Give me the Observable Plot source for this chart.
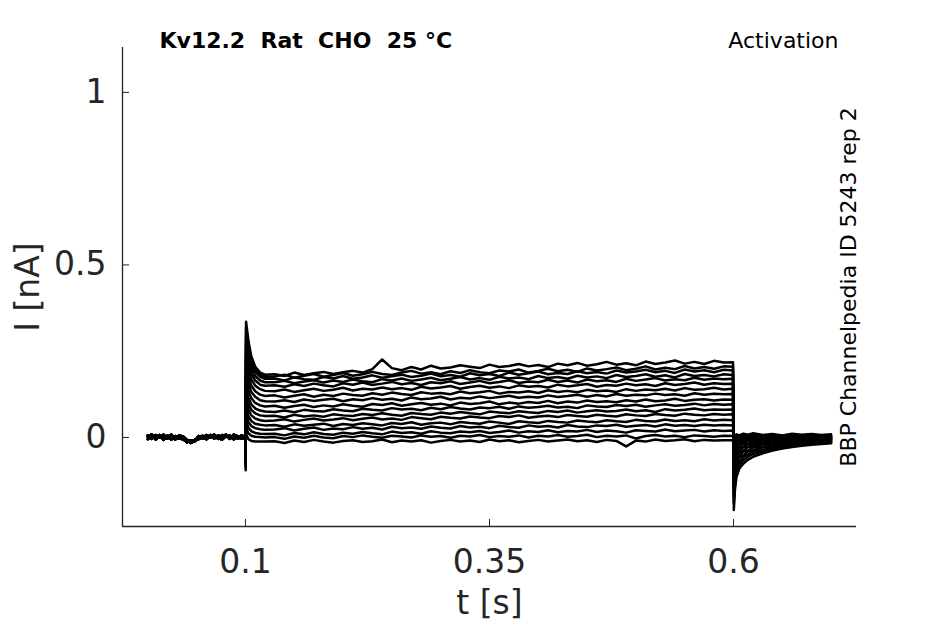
<!DOCTYPE html>
<html><head><meta charset="utf-8">
<script src="https://cdn.jsdelivr.net/npm/d3@7"></script>
<script src="https://cdn.jsdelivr.net/npm/@observablehq/plot@0.6"></script>
<style>html,body{margin:0;padding:0;background:#fff;overflow:hidden}</style>
</head><body><div id="chart"></div>
<script>
// ---- text ----
const titleText = "Kv12.2\u00a0 Rat\u00a0 CHO\u00a0 25 °C";
const protocolText = "Activation";
const sourceText = "BBP Channelpedia ID 5243 rep 2";
const xLabel = "t [s]";
const yLabel = "I [nA]";

// ---- axes ----
const xTicks = [0.1, 0.35, 0.6];
const yTicks = [0, 0.5, 1];
const xDomain = [-0.026, 0.726];
const yDomain = [-0.258, 1.13];

// ---- data (times in ms, currents in pA) ----
const baseT = [0,4,8,12,16,20,24,28,32,36,40,44,48,52,56,60,64,68,72,76,80,84,88,92,96,99.8];
const baseA = [6,-4,7,-1,8,-3,4,-6,2,-7,-9,-12,-7,-2,5,-1,7,-3,5,2,8,-2,4,-3,6,0];
const baseB = [-5,6,-1,7,-3,5,-6,4,-4,-2,-14,-8,-11,4,-3,7,-1,6,-4,7,2,5,-5,4,-1,2];
const baseC = [2,9,-6,4,-7,2,8,-3,6,3,-7,-16,-10,-5,2,-5,4,8,-1,-6,4,-4,8,2,-4,-2];

const onsetT = 100.2;
const onsetDip = [-95,-88,-80,-72,-64,-56,-50,-44,-38,-32,-27,-22,-18,-14,-11,-8,-6];

const stepT = [100.6,103,106,110,115,120,130,140,150,160,170,180,190,200,210,220,230,240,250,260,270,280,290,300,310,320,330,340,350,360,370,380,390,400,410,420,430,440,450,460,470,480,490,500,510,520,530,540,550,560,570,580,590,599.5];

// capacitive transient (first 6 samples of each sweep)
const transients = [
 [335,280,235,205,188,182],
 [320,265,225,198,182,176],
 [300,250,215,190,176,170],
 [280,235,200,178,165,160],
 [260,215,185,165,153,150],
 [240,195,168,150,140,135],
 [215,175,150,134,124,120],
 [195,155,132,118,108,105],
 [175,135,114,100,93,90],
 [150,115,96,84,78,75],
 [130,98,80,70,64,62],
 [110,80,64,55,50,48],
 [90,62,48,40,37,35],
 [70,45,33,27,24,22],
 [50,28,18,13,11,10],
 [30,12,5,2,1,0],
 [10,-5,-10,-12,-12,-12]
];

// steady-state currents from 130 ms to 599.5 ms
const steady = [
 [183,178,188,181,186,190,184,189,193,188,198,226,201,195,204,197,208,200,203,209,205,201,211,204,207,213,206,210,204,214,209,216,208,212,219,211,215,209,220,213,217,223,214,219,213,222,217,218],
 [177,182,173,179,184,176,181,187,179,183,190,184,181,188,193,185,189,183,192,187,195,189,186,194,191,197,188,193,199,192,196,190,200,194,198,203,195,199,206,197,202,198,207,200,204,199,206,205],
 [171,165,174,169,167,175,171,178,170,174,180,173,177,182,175,179,185,177,181,176,186,180,184,178,188,182,186,191,183,187,184,192,186,190,185,194,188,191,196,189,193,187,197,191,195,189,196,194],
 [160,164,157,162,166,159,165,161,168,163,160,169,165,171,164,168,173,166,170,175,168,172,167,176,171,174,169,178,172,175,170,179,174,177,172,181,175,178,183,176,180,174,184,178,181,177,183,181],
 [151,147,154,149,156,151,148,157,153,159,152,156,161,154,158,152,160,157,163,155,159,164,157,161,166,158,162,160,167,161,165,159,168,163,166,161,170,164,168,172,165,169,166,173,167,171,169,170],
 [134,139,132,137,141,135,138,144,136,141,139,145,140,143,138,147,142,145,149,141,146,150,144,148,143,151,147,149,145,153,148,151,155,147,152,150,156,151,154,149,157,152,155,159,153,157,155,156],
 [122,116,121,125,118,124,120,127,123,121,128,124,130,126,123,131,127,129,125,133,128,131,135,127,132,130,134,129,137,132,135,131,138,134,136,132,140,135,139,137,141,136,143,138,140,144,139,141],
 [104,108,103,110,106,109,112,105,111,108,114,109,112,107,116,111,113,118,110,115,113,119,114,117,121,115,118,116,122,117,120,124,118,123,119,126,121,124,122,127,123,125,121,128,124,127,125,126],
 [92,86,91,95,88,93,90,96,92,89,97,94,99,92,96,100,95,98,93,101,97,99,104,96,101,98,103,100,106,99,104,101,107,103,105,102,108,104,110,105,107,112,106,109,111,107,110,109],
 [74,78,73,80,77,75,82,78,76,83,80,78,85,81,83,79,86,82,88,84,81,87,85,89,83,90,86,88,92,87,89,85,93,90,88,94,91,95,89,93,96,92,94,98,93,97,95,96],
 [63,58,66,61,64,60,67,64,62,68,65,70,66,63,71,68,66,72,69,74,70,67,75,72,70,76,73,71,77,74,78,72,76,79,75,77,81,76,79,74,82,78,80,84,79,81,80,81],
 [49,53,46,51,55,49,52,56,50,54,58,52,55,51,59,56,53,60,57,55,61,58,56,62,59,64,57,61,63,59,65,62,60,66,63,61,67,64,62,68,65,63,69,66,64,68,66,67],
 [36,31,38,34,37,40,33,39,36,41,38,35,42,39,44,37,41,43,38,45,42,40,46,43,39,47,44,42,48,45,43,49,46,44,50,47,45,51,48,46,52,48,50,47,53,49,51,50],
 [23,27,20,25,29,22,26,24,30,25,28,23,31,27,29,25,32,28,26,33,29,31,27,34,30,28,35,31,33,29,36,32,30,35,33,37,31,34,36,32,38,34,36,33,37,35,36,35],
 [11,6,13,9,15,10,8,14,11,16,12,9,17,13,15,11,18,14,12,17,15,19,13,16,20,14,18,16,21,15,19,17,22,16,20,18,14,21,19,17,23,18,20,22,17,21,19,20],
 [1,-4,3,-1,5,0,-2,4,1,6,2,-1,5,3,0,6,2,4,-1,5,3,7,1,4,2,6,0,5,3,7,2,4,8,1,5,3,6,-3,4,7,3,5,1,6,4,2,5,4],
 [-11,-16,-9,-13,-7,-12,-15,-10,-8,-13,-11,-6,-14,-9,-12,-8,-15,-10,-7,-12,-9,-13,-6,-11,-8,-14,-10,-7,-12,-9,-6,-11,-8,-13,-7,-10,-26,-9,-12,-6,-10,-8,-5,-11,-7,-9,-8,-8]
];

const tailT = [600.3,601.5,603,606,610,615,620,630,640,650,660,670,680,690,700];
const tailCurrents = [
 [-210,-150,-115,-90,-76,-64,-56,-46,-38,-32,-28,-24,-21,-19,-17],
 [-190,-135,-100,-80,-66,-55,-48,-40,-33,-28,-24,-21,-18,-16,-15],
 [-170,-120,-88,-72,-56,-49,-41,-36,-28,-25,-20,-19,-15,-15,-12],
 [-150,-105,-78,-58,-52,-40,-37,-29,-26,-20,-19,-15,-15,-11,-12],
 [-135,-92,-68,-54,-41,-38,-29,-27,-20,-19,-14,-14,-11,-11,-8],
 [-120,-80,-58,-43,-39,-28,-27,-20,-19,-13,-14,-10,-11,-8,-9],
 [-105,-68,-50,-40,-29,-27,-20,-19,-13,-14,-8,-10,-6,-8,-5],
 [-90,-58,-42,-30,-27,-19,-19,-12,-13,-8,-9,-5,-7,-3,-6],
 [-78,-48,-34,-28,-18,-18,-12,-13,-7,-9,-4,-6,-2,-5,-1],
 [-65,-40,-28,-18,-17,-10,-12,-6,-8,-3,-6,-1,-5,0,-3],
 [-55,-32,-22,-17,-9,-10,-5,-7,-2,-5,0,-4,1,-3,1],
 [-45,-25,-16,-8,-9,-3,-6,-1,-4,1,-3,2,-2,2,-1],
 [-35,-18,-11,-8,-2,-4,1,-3,2,-2,3,-1,3,-1,2],
 [-28,-10,-3,-6,2,-2,3,-1,3,0,3,0,2,1,2],
 [-20,-5,1,-2,5,1,6,2,5,1,6,2,5,3,4],
 [-12,-1,5,2,8,4,9,3,7,4,8,5,7,4,6],
 [-6,4,9,6,11,8,12,7,10,6,11,8,10,7,9]
];

// ---- build long table ----
const baselines = [baseA, baseB, baseC];
const rows = [];
transients.forEach((tr, i) => {
  const base = baselines[i % 3];
  const sweep = tr.concat(steady[i]);
  baseT.forEach((t, k) => rows.push({sweep: i, t: t / 1000, I: base[k] / 1000}));
  rows.push({sweep: i, t: onsetT / 1000, I: onsetDip[i] / 1000});
  stepT.forEach((t, k) => { if (sweep[k] !== undefined) rows.push({sweep: i, t: t / 1000, I: sweep[k] / 1000}); });
  tailT.forEach((t, k) => rows.push({sweep: i, t: t / 1000, I: tailCurrents[i][k] / 1000}));
});

const axisColor = "#262626";
const font = "DejaVu Sans";
const fmt = d => String(d);

const chart = Plot.plot({
  width: 945,
  height: 624,
  marginLeft: 122,
  marginRight: 89,
  marginTop: 47,
  marginBottom: 98,
  style: {fontFamily: font, color: axisColor, background: "#fff", overflow: "visible"},
  x: {domain: xDomain},
  y: {domain: yDomain},
  marks: [
    Plot.line(rows, {x: "t", y: "I", z: "sweep", stroke: "#000", strokeWidth: 2.5, strokeLinejoin: "round"}),
    Plot.ruleY([yDomain[0]], {stroke: axisColor, strokeWidth: 1.3}),
    Plot.ruleX([xDomain[0]], {stroke: axisColor, strokeWidth: 1.3}),
    Plot.axisX({ticks: xTicks, tickSize: -7, tickFormat: () => "", stroke: axisColor, label: null}),
    Plot.axisX({ticks: xTicks, tickSize: 0, tickPadding: 23, tickFormat: fmt, fontSize: 33, fill: axisColor, label: null}),
    Plot.axisY({ticks: yTicks, tickSize: -7, tickFormat: () => "", stroke: axisColor, label: null}),
    Plot.axisY({ticks: yTicks, tickSize: 0, tickPadding: 16, tickFormat: fmt, fontSize: 33, fill: axisColor, label: null}),
    Plot.text([xLabel], {frameAnchor: "bottom", text: d => d, dy: 87, lineAnchor: "bottom", textAnchor: "middle", fontSize: 33, fill: axisColor}),
    Plot.text([yLabel], {frameAnchor: "left", text: d => d, dx: -84, rotate: -90, lineAnchor: "bottom", textAnchor: "middle", fontSize: 33, fill: axisColor}),
    Plot.text([titleText], {frameAnchor: "top-left", text: d => d, dx: 37, dy: 0, lineAnchor: "bottom", textAnchor: "start", fontSize: 22, fontWeight: "bold", fill: "#000"}),
    Plot.text([protocolText], {frameAnchor: "top-right", text: d => d, dx: -18, dy: 0, lineAnchor: "bottom", textAnchor: "end", fontSize: 22, fill: "#000"}),
    Plot.text([sourceText], {frameAnchor: "right", text: d => d, dx: -1, rotate: -90, lineAnchor: "bottom", textAnchor: "middle", fontSize: 22, fill: "#000"})
  ]
});
document.getElementById("chart").appendChild(chart);
</script>
</body></html>
